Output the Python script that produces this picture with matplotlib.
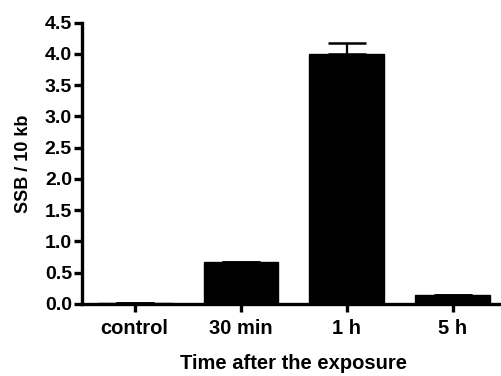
import matplotlib
matplotlib.use("Agg")
import matplotlib.pyplot as plt

# data
groups = ["control", "30 min", "1 h", "5 h"]
ssb = [0.01, 0.67, 4.0, 0.15]
ssb_err = [0.0, 0.0, 0.18, 0.0]
y_ticks = [0.0, 0.5, 1.0, 1.5, 2.0, 2.5, 3.0, 3.5, 4.0, 4.5]

plt.rcParams["font.family"] = ["Liberation Sans", "DejaVu Sans"]
plt.rcParams["font.weight"] = "bold"

fig = plt.figure(figsize=(5.01, 3.76), dpi=100)
ax = fig.add_axes([0.163, 0.1915, 0.846, 0.748])

x = list(range(len(groups)))
ax.bar(x, ssb, width=0.7, color="black", edgecolor="black", zorder=2)
ax.errorbar(x, ssb, yerr=[[0] * len(ssb), ssb_err], fmt="none",
            ecolor="black", elinewidth=1.6, capsize=13.5, capthick=1.8, zorder=3)

ax.set_xlim(-0.5, 3.5)
ax.set_ylim(0, 4.5)
ax.set_xticks(x)
ax.set_xticklabels(groups)
ax.set_yticks(y_ticks)
ax.set_yticklabels([f"{v:.1f}" for v in y_ticks])

for side in ["top", "right"]:
    ax.spines[side].set_visible(False)
for side in ["left", "bottom"]:
    ax.spines[side].set_linewidth(2.4)

ax.tick_params(axis="both", direction="out", length=6, width=2.4, pad=1)
ax.tick_params(axis="y", labelsize=14)
ax.tick_params(axis="x", labelsize=14.5, pad=5)

ax.set_ylabel("SSB / 10 kb", fontsize=13, fontweight="bold", labelpad=9)
ax.set_xlabel("Time after the exposure", fontsize=14.5, fontweight="bold", labelpad=11)

fig.savefig("out.png", dpi=100)
